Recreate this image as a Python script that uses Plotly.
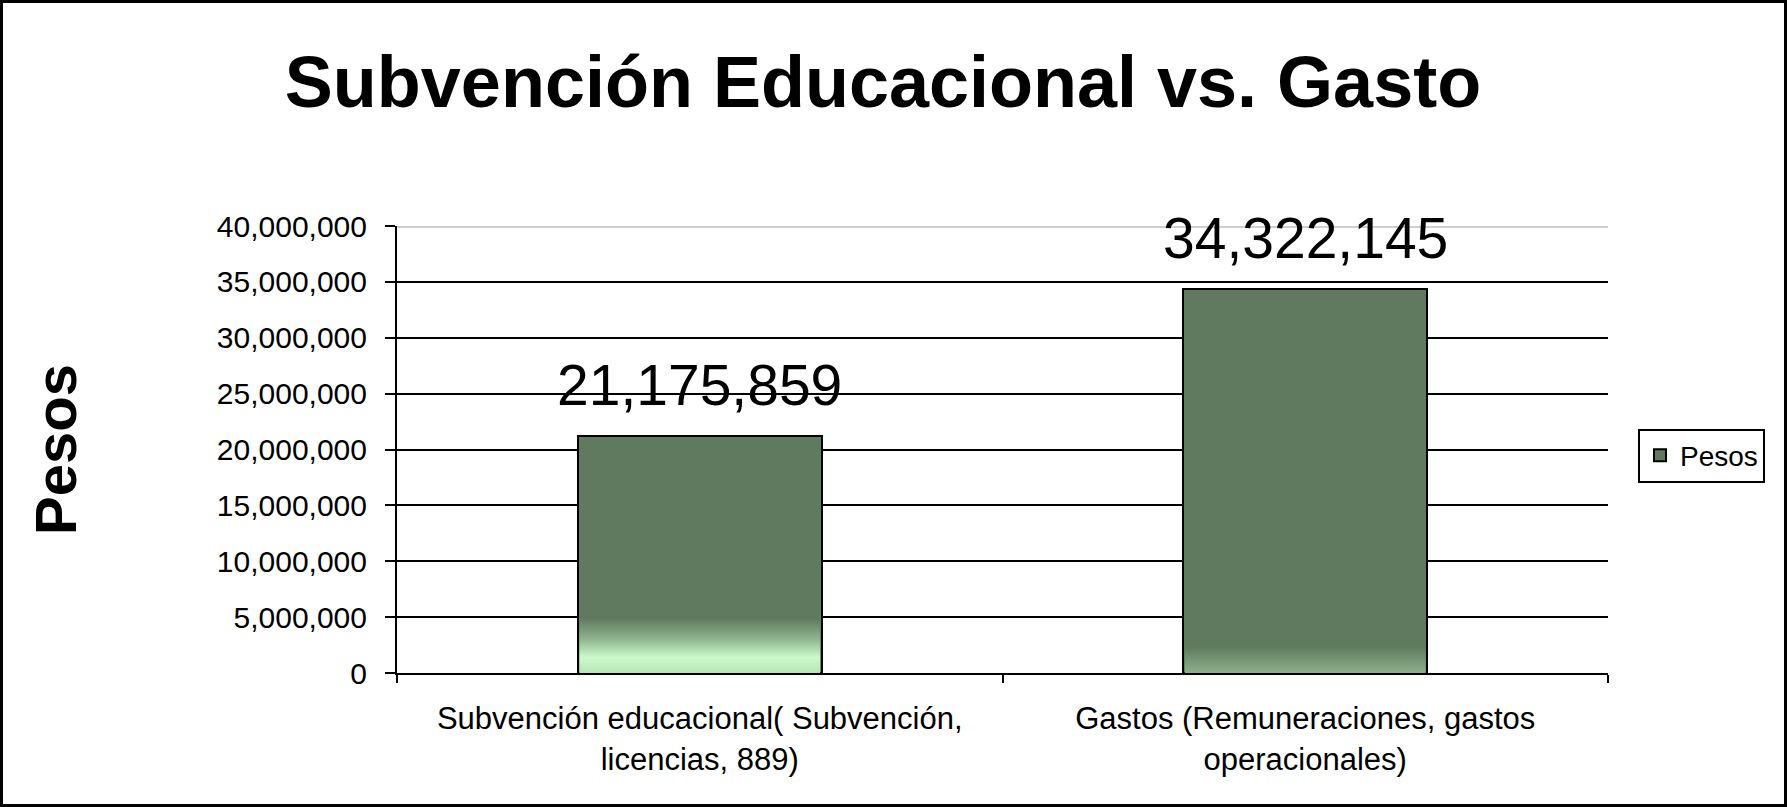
import plotly.graph_objects as go

# ---------------- data ----------------
categories = [
    "Subvención educacional( Subvención,<br>licencias, 889)",
    "Gastos (Remuneraciones, gastos<br>operacionales)",
]
values = [21175859, 34322145]
series_name = "Pesos"
y_tick_values = [0, 5000000, 10000000, 15000000, 20000000, 25000000, 30000000, 35000000, 40000000]
y_tick_labels = ["0", "5,000,000", "10,000,000", "15,000,000", "20,000,000",
                 "25,000,000", "30,000,000", "35,000,000", "40,000,000"]
title_text = "Subvención Educacional vs. Gasto"
y_title = "Pesos"

# ---------------- style ----------------
W, H = 1787, 807
ML, MR, MT, MB = 397, 179, 226, 134
PW, PH = W - ML - MR, H - MT - MB
FONT = "Liberation Sans, Arial, sans-serif"
BAR_COLOR = "#5f7a5f"
BAR_WIDTH = 0.403
# bottom light gradient (Excel fill effect) per bar: (height of band, colorscale)
gradient_style = [
    (4.9e6, [[0, "#b6e4b6"], [0.28, "#cbfbcb"], [0.62, "#8fb48f"], [1, BAR_COLOR]]),
    (2.4e6, [[0, "#8cb08c"], [1, BAR_COLOR]]),
]

fig = go.Figure()
fig.add_trace(go.Bar(
    x=categories, y=values, name=series_name,
    width=BAR_WIDTH,
    marker=dict(color=BAR_COLOR, line=dict(color="black", width=2)),
    hoverinfo="skip",
))

# gradient overlay inside the bottom of each bar
inset = 1.6 / (PW / len(categories))
for i, v in enumerate(values):
    band, cs = gradient_style[i]
    top = min(v, band)
    hw = BAR_WIDTH / 2 - inset
    fig.add_trace(go.Scatter(
        x=[i - hw, i + hw, i + hw, i - hw, i - hw],
        y=[0, 0, top, top, 0],
        xaxis="x2", yaxis="y",
        mode="lines", line=dict(width=0), fill="toself",
        fillgradient=dict(type="vertical", colorscale=cs, start=0, stop=top),
        showlegend=False, hoverinfo="skip",
    ))

# data labels
for c, v in zip(categories, values):
    fig.add_annotation(
        x=c, y=v, xref="x", yref="y", text=f"{v:,}", showarrow=False,
        yanchor="bottom", yshift=17,
        font=dict(family=FONT, size=57, color="black"),
    )

fig.update_layout(
    width=W, height=H,
    margin=dict(l=ML, r=MR, t=MT, b=MB, autoexpand=False),
    paper_bgcolor="white", plot_bgcolor="white",
    font=dict(family=FONT, color="black"),
    title=dict(
        text=f"<b>{title_text}</b>", x=883 / W, xanchor="center",
        y=1 - 82 / H, yanchor="middle", yref="container",
        font=dict(family=FONT, size=72, color="black"),
    ),
    showlegend=True,
    legend=dict(
        x=1 + (1638 - ML - PW) / PW, xanchor="left",
        y=(H - MB - 455.5) / PH, yanchor="middle",
        bordercolor="black", borderwidth=2, bgcolor="white",
        font=dict(family=FONT, size=28, color="black"),
        itemsizing="constant",
    ),
    bargap=0,
    xaxis=dict(
        type="category", range=[-0.5, 1.5],
        showline=True, linecolor="black", linewidth=2,
        ticks="outside", ticklen=8, tickwidth=2, tickcolor="black",
        tickson="boundaries",
        showgrid=False, zeroline=False,
        tickfont=dict(family=FONT, size=31, color="black"),
        ticklabelstandoff=17,
    ),
    xaxis2=dict(overlaying="x", range=[-0.5, 1.5], visible=False, fixedrange=True),
    yaxis=dict(
        range=[0, 40000000],
        tickmode="array", tickvals=y_tick_values, ticktext=y_tick_labels,
        showline=True, linecolor="black", linewidth=2,
        ticks="outside", ticklen=10, tickwidth=2, tickcolor="black",
        showgrid=True, gridcolor="black", gridwidth=2,
        zeroline=False,
        tickfont=dict(family=FONT, size=30, color="black"),
        ticklabelstandoff=12,
        title=dict(text=f"<b>{y_title}</b>", standoff=122,
                   font=dict(family=FONT, size=58, color="black")),
    ),
    shapes=[
        # light top gridline like the original
        dict(type="line", xref="paper", yref="y", x0=0, x1=1, y0=40000000, y1=40000000,
             line=dict(color="#cfcfcf", width=4), layer="above"),
        # outer chart border
        dict(type="rect", xref="paper", yref="paper",
             x0=(1.5 - ML) / PW, x1=1 + (MR - 1.5) / PW,
             y0=-(MB - 1.5) / PH, y1=1 + (MT - 1.5) / PH,
             line=dict(color="black", width=3), fillcolor="rgba(0,0,0,0)", layer="above"),
    ],
)

fig.write_html(
    "out.html",
    config={"displayModeBar": False},
    post_script="document.body.style.margin='0';document.body.style.overflow='hidden';",
)
